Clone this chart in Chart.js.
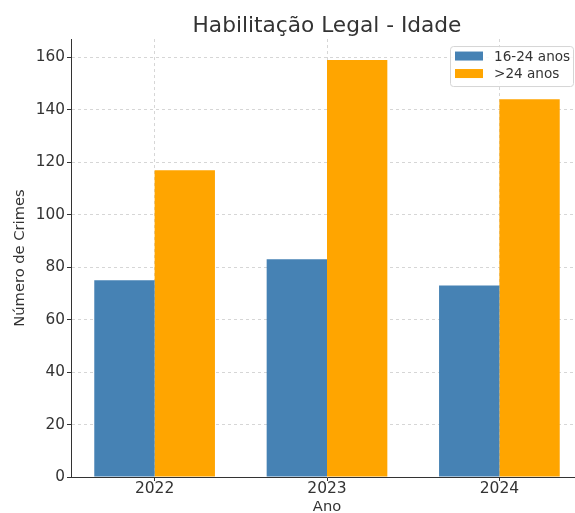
<!DOCTYPE html>
<html><head><meta charset="utf-8">
<script src="https://cdn.jsdelivr.net/npm/chart.js@4"></script>
<style>html,body{margin:0;padding:0;overflow:hidden;background:#fff}</style>
</head><body>
<canvas id="c" width="654" height="513" style="display:block;width:654px;height:513px"></canvas>
<script>
const years = ['2022', '2023', '2024'];
const youth = [75, 83, 73];
const adults = [117, 159, 144];
const seriesLabels = ['16-24 anos', '>24 anos'];
const seriesColors = ['#4682B4', '#FFA500'];
const yTicks = [0, 20, 40, 60, 80, 100, 120, 140, 160];

const FONT = 'DejaVu Sans';
const TXT = '#333333';

const insideLegend = {
  id: 'insideLegend',
  afterDraw(chart) {
    const { ctx, chartArea: a } = chart;
    const w = 123, h = 40;
    const x = a.right - 10 - w, y = a.top + 7;
    ctx.save();
    ctx.fillStyle = 'rgba(255,255,255,0.85)';
    ctx.strokeStyle = '#d5d5d5';
    ctx.lineWidth = 1;
    ctx.beginPath();
    ctx.roundRect(x + 0.5, y + 0.5, w, h, 3);
    ctx.fill();
    ctx.stroke();
    ctx.font = '13.6px "' + FONT + '"';
    ctx.textBaseline = 'middle';
    chart.data.datasets.forEach((ds, i) => {
      const cy = y + 10 + i * 17.5;
      ctx.fillStyle = ds.backgroundColor;
      ctx.fillRect(x + 5, cy - 4.5, 28, 9);
      ctx.fillStyle = TXT;
      ctx.fillText(ds.label, x + 44, cy + 1);
    });
    ctx.restore();
  }
};

const gridOpts = {
  color: '#d6d6d6',
  lineWidth: 1,
  tickColor: TXT,
  tickLength: 4,
  tickBorderDash: [],
  offset: false
};

new Chart(document.getElementById('c'), {
  type: 'bar',
  data: {
    datasets: [
      { label: seriesLabels[0], data: youth.map((v, i) => ({ x: i, y: v })), backgroundColor: seriesColors[0] },
      { label: seriesLabels[1], data: adults.map((v, i) => ({ x: i, y: v })), backgroundColor: seriesColors[1] }
    ]
  },
  options: {
    responsive: false,
    animation: false,
    categoryPercentage: 0.7,
    barPercentage: 1.0,
    layout: { padding: { left: 0, right: 71, top: 0, bottom: 0 } },
    plugins: {
      legend: { display: false },
      tooltip: { enabled: false },
      title: {
        display: true,
        fullSize: false,
        text: 'Habilitação Legal - Idade',
        color: TXT,
        font: { family: FONT, size: 21.7, weight: 'normal', lineHeight: 1.2 },
        padding: { top: 13, bottom: 0 }
      }
    },
    scales: {
      x: {
        type: 'linear',
        offset: false,
        min: -0.485,
        max: 2.485,
        afterBuildTicks(scale) { scale.ticks = years.map((_, i) => ({ value: i })); },
        afterFit(scale) { scale.height = 36; },
        ticks: {
          callback: (v) => years[Math.round(v)],
          color: TXT,
          font: { family: FONT, size: 15.5 },
          padding: -1,
          maxRotation: 0,
          autoSkip: false
        },
        grid: gridOpts,
        border: { color: TXT, width: 1, dash: [3, 3] },
        title: {
          display: true,
          text: 'Ano',
          color: TXT,
          font: { family: FONT, size: 14.7, lineHeight: 0.8 },
          padding: { top: 0, bottom: 0 }
        }
      },
      y: {
        min: 0,
        max: 167,
        afterBuildTicks(scale) { scale.ticks = yTicks.map(v => ({ value: v })); },
        afterFit(scale) { scale.width = 71; },
        ticks: {
          color: TXT,
          font: { family: FONT, size: 15.3 },
          padding: 2
        },
        grid: gridOpts,
        border: { color: TXT, width: 1, dash: [3, 3] },
        title: {
          display: true,
          text: 'Número de Crimes',
          color: TXT,
          font: { family: FONT, size: 14.7 },
          padding: { top: 11, bottom: 0 }
        }
      }
    }
  },
  plugins: [insideLegend]
});
</script>
</body></html>
